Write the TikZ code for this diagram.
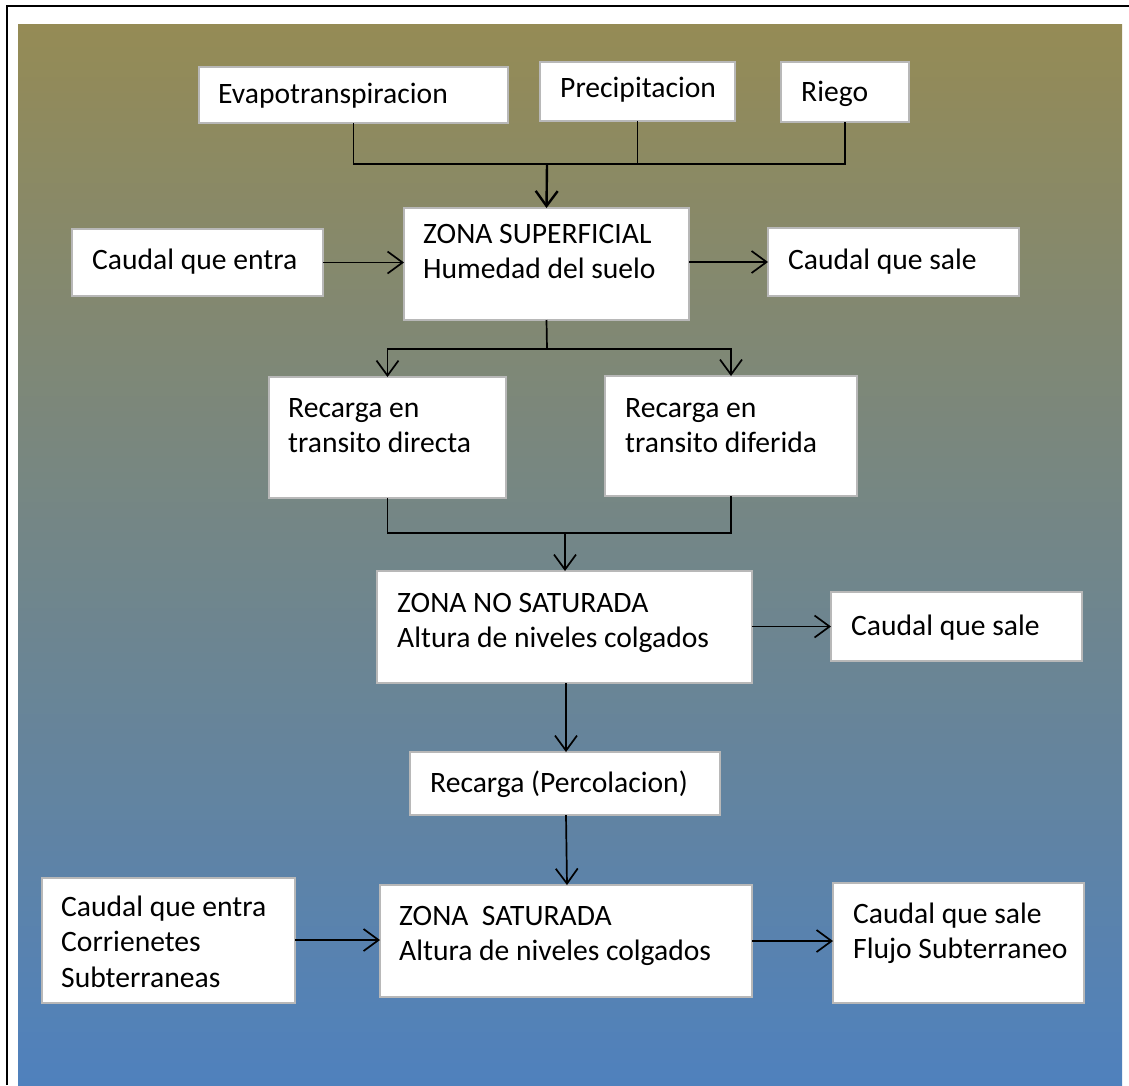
\documentclass[tikz,border=0pt]{standalone}
\usepackage{fontspec}
\setmainfont{Carlito}
\usetikzlibrary{arrows.meta}
% fixed first-line height so every label starts from a known baseline
\newcommand\firstline{\rule{0pt}{24pt}}
\definecolor{bgtop}{RGB}{149,139,85}
\definecolor{bgbottom}{RGB}{79,129,189}

\begin{document}
\begin{tikzpicture}[x=1pt,y=-1pt,
  box/.style={draw=black!28, line width=1.6pt, fill=white, inner sep=0pt,
              outer sep=0pt, anchor=north west},
  txt/.style={anchor=north west, inner sep=0pt, align=left,
              font=\fontsize{29.6}{35.5}\selectfont},
  link/.style={line width=1.7pt},
  arr/.style={link, -{Straight Barb[length=15pt,width=22pt]}}]

\useasboundingbox (0,0) rectangle (1129,1085);

% background and frame
\fill[top color=bgtop, bottom color=bgbottom] (18,24) rectangle (1122,1085);
\draw[line width=2.6pt] (7,1085) -- (7,6) -- (1129,6);

% boxes
\node[box, minimum width=309pt, minimum height=56pt]  (evap)  at (199,67)  {};
\node[box, minimum width=195pt, minimum height=59pt]  (prec)  at (540,62)  {};
\node[box, minimum width=128pt, minimum height=60pt]  (riego) at (781,62)  {};
\node[box, minimum width=251pt, minimum height=67pt]  (cin)   at (72,229)  {};
\node[box, minimum width=285pt, minimum height=112pt] (zs)    at (404,208) {};
\node[box, minimum width=251pt, minimum height=68pt]  (cout)  at (768,228) {};
\node[box, minimum width=237pt, minimum height=121pt] (dir)   at (269,377) {};
\node[box, minimum width=252pt, minimum height=120pt] (dif)   at (605,376) {};
\node[box, minimum width=375pt, minimum height=112pt] (zns)   at (377,571) {};
\node[box, minimum width=251pt, minimum height=69pt]  (coutb) at (831,592) {};
\node[box, minimum width=310pt, minimum height=63pt]  (rec)   at (410,752) {};
\node[box, minimum width=253pt, minimum height=125pt] (cinb)  at (42,878)  {};
\node[box, minimum width=372pt, minimum height=112pt] (zsat)  at (380,885) {};
\node[box, minimum width=251pt, minimum height=120pt] (coutc) at (833,883) {};

% labels
\node[txt] (tevap)  at (218,79)  {\firstline Evapotranspiracion};
\node[txt] (tprec)  at (560,73)  {\firstline Precipitacion};
\node[txt] (triego) at (801,77)  {\firstline Riego};
\node[txt] (tcin)   at (92,245)  {\firstline Caudal que entra};
\node[txt] (tzs)    at (423,219) {\firstline ZONA SUPERFICIAL\\Humedad del suelo};
\node[txt] (tcout)  at (788,245) {\firstline Caudal que sale};
\node[txt] (tdir)   at (288,393) {\firstline Recarga en\\transito directa};
\node[txt] (tdif)   at (625,393) {\firstline Recarga en\\transito diferida};
\node[txt] (tzns)   at (397,588) {\firstline ZONA NO SATURADA\\Altura de niveles colgados};
\node[txt] (tcoutb) at (851,611) {\firstline Caudal que sale};
\node[txt] (trec)   at (430,768) {\firstline Recarga (Percolacion)};
\node[txt] (tcinb)  at (61,892)  {\firstline Caudal que entra\\Corrienetes\\Subterraneas};
\node[txt] (tzsat)  at (399,901) {\firstline ZONA~~SATURADA\\Altura de niveles colgados};
\node[txt] (tcoutc) at (853,899) {\firstline Caudal que sale\\Flujo Subterraneo};

% joins
\coordinate (topjoin) at (547,164);
\coordinate (split)   at (547,349);
\coordinate (midjoin) at (565,533);

% inputs on top merge into the surface zone
\draw[link] (evap.south) -- (evap.south |- topjoin) -- (riego.south |- topjoin) -- (riego.south);
\draw[link] (prec.south) -- (prec.south |- topjoin);
\draw[arr, line width=2.4pt] (topjoin) -- (zs.north);

% surface zone in / out
\draw[arr] (cin.east) -- (cin.east -| zs.west);
\draw[arr] (zs.east |- cout.west) -- (cout.west);

% split into the two recharge paths
\draw[link] (zs.south) -- (split);
\draw[arr] (split) -| (dir.north);
\draw[arr] (split) -| (dif.north);

% merge into the unsaturated zone
\draw[link] (dir.south) -- (dir.south |- midjoin) -- (dif.south |- midjoin) -- (dif.south);
\draw[arr] (midjoin) -- (midjoin |- zns.north);
\draw[arr] (zns.east |- coutb.west) -- (coutb.west);

% percolation down to the saturated zone
\draw[arr] (zns.south -| 566,0) -- (rec.north -| 566,0);
\draw[arr] (rec.south -| 566,0) -- (zsat.north -| 567,0);

% saturated zone in / out
\draw[arr] (cinb.east |- 0,940) -- (zsat.west |- 0,940);
\draw[arr] (zsat.east |- 0,941) -- (coutc.west |- 0,941);
\end{tikzpicture}
\end{document}
